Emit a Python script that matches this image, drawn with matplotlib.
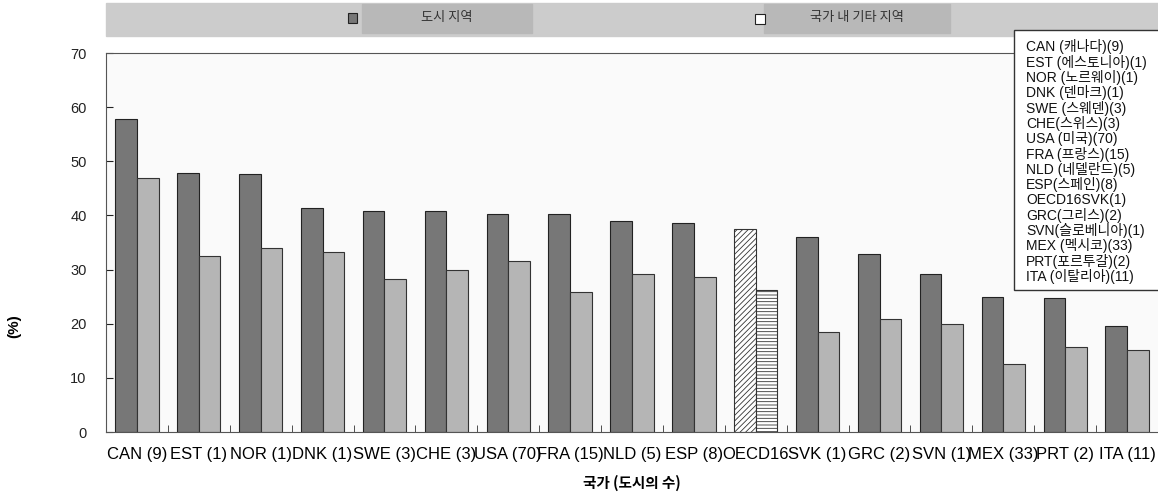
import numpy as np
import matplotlib
matplotlib.use("Agg")
import matplotlib.pyplot as plt
from matplotlib.patches import Rectangle

plt.rcParams['font.family'] = ['Liberation Sans', 'Noto Sans CJK KR', 'DejaVu Sans']
plt.rcParams['hatch.color'] = '#555555'
plt.rcParams['hatch.linewidth'] = 0.6

# data
labels = ["CAN (9)", "EST (1)", "NOR (1)", "DNK (1)", "SWE (3)", "CHE (3)", "USA (70)",
          "FRA (15)", "NLD (5)", "ESP (8)", "OECD16", "SVK (1)", "GRC (2)", "SVN (1)",
          "MEX (33)", "PRT (2)", "ITA (11)"]
urban = [57.8, 47.8, 47.6, 41.4, 40.8, 40.8, 40.3, 40.3, 39.0, 38.6, 37.5,
         36.0, 32.8, 29.2, 25.0, 24.8, 19.6]
other = [47.0, 32.5, 34.0, 33.2, 28.3, 30.0, 31.6, 25.8, 29.2, 28.6, 26.3,
         18.5, 20.8, 20.0, 12.5, 15.7, 15.2]
series_names = ["도시 지역", "국가 내 기타 지역"]
legend_lines = ["CAN (캐나다)(9)", "EST (에스토니아)(1)", "NOR (노르웨이)(1)", "DNK (덴마크)(1)",
                "SWE (스웨덴)(3)", "CHE(스위스)(3)", "USA (미국)(70)", "FRA (프랑스)(15)",
                "NLD (네델란드)(5)", "ESP(스페인)(8)", "OECD16SVK(1)", "GRC(그리스)(2)",
                "SVN(슬로베니아)(1)", "MEX (멕시코)(33)", "PRT(포르투갈)(2)", "ITA (이탈리아)(11)"]
avg_label = "OECD16"

W, H = 1158, 498
fig = plt.figure(figsize=(W / 100, H / 100), dpi=100)
fig.patch.set_facecolor('white')

ax = fig.add_axes([106 / W, (H - 432) / H, (1158 - 106) / W, (432 - 53) / H])
ax.set_facecolor('#fafafa')

x = np.arange(len(labels))
bw = 0.35
dark = '#777777'
light = '#b5b5b5'
for i in x:
    if labels[i] == avg_label:
        ax.bar(i - bw / 2, urban[i], bw, color='white', edgecolor='#333333',
               hatch='//////', linewidth=0.8)
        ax.bar(i + bw / 2, other[i], bw, color='white', edgecolor='#333333',
               hatch='-----', linewidth=0.8)
    else:
        ax.bar(i - bw / 2, urban[i], bw, color=dark, edgecolor='#222222', linewidth=0.8)
        ax.bar(i + bw / 2, other[i], bw, color=light, edgecolor='#333333', linewidth=0.8)

ax.set_xlim(-0.5, len(labels) - 0.5)
ax.set_ylim(0, 70)
ax.set_yticks(range(0, 71, 10))
ax.tick_params(axis='y', direction='in', length=5, labelsize=10.5, colors='#222222', pad=14)
ax.set_xticks(x)
ax.set_xticklabels(labels, fontsize=12)
ax.tick_params(axis='x', length=0, pad=11)
ax.set_xticks(np.arange(0.5, len(labels) - 0.5, 1), minor=True)
ax.tick_params(axis='x', which='minor', direction='in', length=5, color='#333333')
for s in ['left', 'top', 'bottom']:
    ax.spines[s].set_color('#555555')
ax.spines['right'].set_visible(False)

fig.text(632 / W, 1 - 483 / H, "국가 (도시의 수)", ha='center', va='center',
         fontsize=10.5, fontweight='bold', family=['Noto Sans CJK KR'])
fig.text(14 / W, 1 - 326 / H, "(%)", ha='center', va='center', rotation=90,
         fontsize=11, fontweight='bold')

# header band legend
fig.patches.append(Rectangle((106 / W, 1 - 36 / H), (1158 - 106) / W, 33 / H,
                             transform=fig.transFigure, color='#cccccc', zorder=0))
fig.patches.append(Rectangle((362 / W, 1 - 33 / H), 170 / W, 29 / H,
                             transform=fig.transFigure, color='#b8b8b8', zorder=1))
fig.patches.append(Rectangle((764 / W, 1 - 33 / H), 186 / W, 29 / H,
                             transform=fig.transFigure, color='#b8b8b8', zorder=1))
fig.patches.append(Rectangle((348 / W, 1 - 23 / H), 9 / W, 10 / H, transform=fig.transFigure,
                             facecolor=dark, edgecolor='#222222', linewidth=0.8, zorder=2))
fig.patches.append(Rectangle((755 / W, 1 - 24 / H), 10 / W, 10 / H, transform=fig.transFigure,
                             facecolor='white', edgecolor='#222222', linewidth=0.8, zorder=2))
fig.text(447 / W, 1 - 18 / H, series_names[0], ha='center', va='center', fontsize=9.5,
         color='#333333', family=['Noto Sans CJK KR'])
fig.text(857 / W, 1 - 18 / H, series_names[1], ha='center', va='center', fontsize=9.5,
         color='#333333', family=['Noto Sans CJK KR'])

# country legend box
fig.patches.append(Rectangle((1014 / W, 1 - 290 / H), 150 / W, 260 / H, transform=fig.transFigure,
                             facecolor='white', edgecolor='#333333', linewidth=1, zorder=5))
for k, line in enumerate(legend_lines):
    fig.text(1026 / W, 1 - (47 + k * 15.3) / H, line, ha='left', va='center', fontsize=10,
             color='#111111', zorder=6)

fig.savefig("out.png", dpi=100)
